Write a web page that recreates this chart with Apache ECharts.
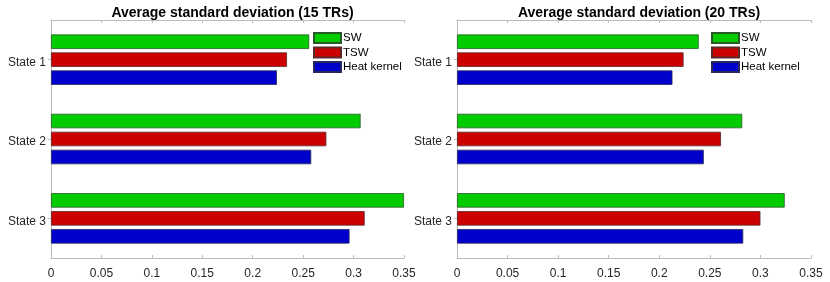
<!DOCTYPE html>
<html>
<head>
<meta charset="utf-8">
<script src="https://cdn.jsdelivr.net/npm/echarts@6/dist/echarts.min.js"></script>
<style>html,body{margin:0;padding:0;background:#fff;}#c{width:830px;height:282px;}</style>
</head>
<body>
<div id="c"></div>
<script>
var categories = ['State 1', 'State 2', 'State 3'];
var seriesNames = ['SW', 'TSW', 'Heat kernel'];
var titles = ['Average standard deviation (15 TRs)', 'Average standard deviation (20 TRs)'];
var xTicks = [0, 0.05, 0.1, 0.15, 0.2, 0.25, 0.3, 0.35];
// 15 TRs
var sw15 = [0.256, 0.307, 0.350];
var tsw15 = [0.234, 0.273, 0.311];
var hk15 = [0.224, 0.258, 0.296];
// 20 TRs
var sw20 = [0.239, 0.282, 0.324];
var tsw20 = [0.224, 0.261, 0.300];
var hk20 = [0.213, 0.244, 0.283];

var colors = ['#00cc00', '#cc0000', '#0000cc'];
var borders = ['#2a5a2a', '#5a2a2a', '#2a2a5a'];
var font = 'Liberation Sans, Arial, Helvetica, sans-serif';
var axisColor = '#bcbcbc';
var grids = [{left: 51, top: 20, width: 353, height: 238}, {left: 457, top: 20, width: 354, height: 238}];

var chart = echarts.init(document.getElementById('c'));
var xAxes = [], yAxes = [], series = [], titleArr = [], legends = [];
var data = [[sw15, tsw15, hk15], [sw20, tsw20, hk20]];
var legendLeft = [313, 711];
for (var g = 0; g < 2; g++) {
  titleArr.push({
    text: titles[g], left: grids[g].left + grids[g].width / 2, top: 1, textAlign: 'center',
    textStyle: {fontFamily: font, fontSize: 14, fontWeight: 'bold', color: '#000'}
  });
  xAxes.push({
    gridIndex: g, type: 'value', position: 'bottom', min: 0, max: 0.35, interval: 0.05,
    axisLine: {show: true, lineStyle: {color: axisColor, width: 1}},
    axisTick: {show: true, inside: true, length: 3, lineStyle: {color: axisColor}},
    splitLine: {show: false},
    axisLabel: {margin: 10, fontFamily: font, fontSize: 12, color: '#262626',
      formatter: function (v) { return String(+v.toFixed(2)); }}
  });
  xAxes.push({
    gridIndex: g, type: 'value', position: 'top', min: 0, max: 0.35, interval: 0.05,
    axisLine: {show: true, lineStyle: {color: axisColor, width: 1}},
    axisTick: {show: true, inside: true, length: 3, lineStyle: {color: axisColor}},
    splitLine: {show: false}, axisLabel: {show: false}
  });
  yAxes.push({
    gridIndex: g, type: 'category', data: categories, inverse: true, position: 'left',
    axisLine: {show: true, lineStyle: {color: axisColor, width: 1}},
    axisTick: {show: true, inside: true, length: 3, alignWithLabel: true, lineStyle: {color: axisColor}},
    axisLabel: {margin: 5, fontFamily: font, fontSize: 12, color: '#262626',
      formatter: function (v) { return '{a|' + v + '}'; },
      rich: {a: {fontFamily: font, fontSize: 12, color: '#262626', padding: [6, 0, 0, 0]}}}
  });
  yAxes.push({
    gridIndex: g, type: 'category', data: categories, inverse: true, position: 'right',
    axisLine: {show: true, lineStyle: {color: axisColor, width: 1}},
    axisTick: {show: true, inside: true, length: 3, alignWithLabel: true, lineStyle: {color: axisColor}},
    axisLabel: {show: false}
  });
  for (var s = 0; s < 3; s++) {
    series.push({
      name: seriesNames[s], type: 'bar', xAxisIndex: g * 2, yAxisIndex: g * 2,
      data: data[g][s], barWidth: 14.5, barGap: '24%',
      itemStyle: {color: colors[s], borderColor: borders[s], borderWidth: 0.8},
      emphasis: {disabled: true}, animation: false
    });
  }
  legends.push({
    orient: 'vertical', left: legendLeft[g], top: 32, padding: 0,
    itemWidth: 27, itemHeight: 10, itemGap: 2.5, icon: 'rect',
    data: seriesNames,
    textStyle: {fontFamily: font, fontSize: 11.5, color: '#000', padding: [0, 0, 0, -3]}
  });
}

chart.setOption({
  animation: false,
  title: titleArr,
  grid: grids,
  legend: legends,
  xAxis: xAxes,
  yAxis: yAxes,
  series: series
});
</script>
</body>
</html>
